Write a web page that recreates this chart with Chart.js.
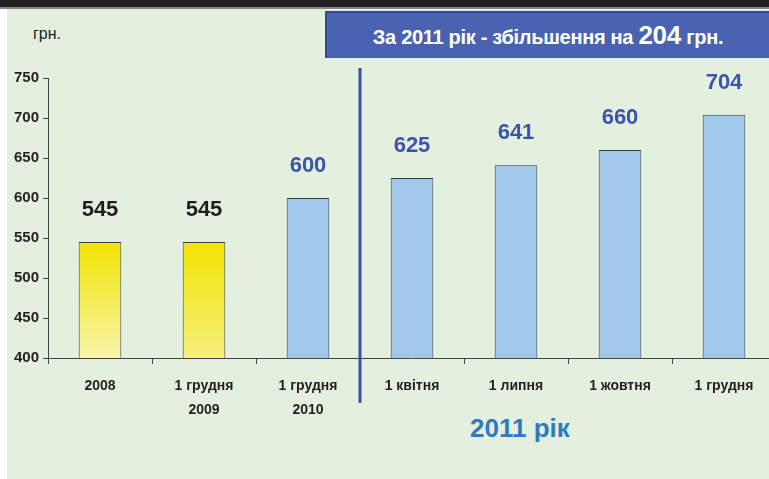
<!DOCTYPE html>
<html>
<head>
<meta charset="utf-8">
<script src="https://cdn.jsdelivr.net/npm/chart.js@4"></script>
<style>
  html, body { margin: 0; padding: 0; background: #fff; overflow: hidden; }
  body { width: 769px; height: 479px; position: relative; font-family: "Liberation Sans", Arial, sans-serif; }
  #bg { position: absolute; left: 7px; top: 0; right: 0; bottom: 0; background: #e4f0df; }
  #topbar { position: absolute; left: 0; top: 0; width: 769px; height: 7px; background: #231f20; border-bottom: 2px solid #8a8a8a; }
  #title { position: absolute; left: 325px; top: 11px; width: 444px; height: 47px; background: #4a63b0;
           border-top: 2px solid #34489a; border-left: 2px solid #34489a; box-sizing: border-box;
           color: #fff; font-weight: bold; font-size: 20px; line-height: 45px; text-align: center; letter-spacing: -0.3px; }
  #title b { font-size: 26px; }
  #unit { position: absolute; left: 33px; top: 25px; font-size: 16px; color: #222; }
  #year { position: absolute; left: 470px; top: 413px; font-size: 26px; font-weight: bold; color: #2f7ac0; }
  canvas { position: absolute; left: 0; top: 0; }
</style>
</head>
<body>
<div id="bg"></div>
<div id="topbar"></div>
<div id="title">За 2011 рік - збільшення на <b>204</b> грн.</div>
<div id="unit">грн.</div>
<div id="year">2011 рік</div>
<canvas id="myChart" width="776" height="479" style="width:776px;height:479px"></canvas>
<script>
const categories = ['2008', ['1 грудня', '2009'], ['1 грудня', '2010'], '1 квітня', '1 липня', '1 жовтня', '1 грудня'];
const values = [545, 545, 600, 625, 641, 660, 704];
const yTicks = [400, 450, 500, 550, 600, 650, 700, 750];

const ctx = document.getElementById('myChart');

function barFill(context) {
    const i = context.dataIndex;
    if (i > 1) return '#9fc8ea';
    const chart = context.chart;
    if (!chart.chartArea) return '#f2e600';
    const y = chart.scales.y;
    const g = chart.ctx.createLinearGradient(0, y.getPixelForValue(values[i]), 0, y.getPixelForValue(400));
    if (i === 0) {
        g.addColorStop(0, '#f1e400');
        g.addColorStop(1, '#f8f4ac');
    } else {
        g.addColorStop(0, '#f2e400');
        g.addColorStop(1, '#f5ef7e');
    }
    return g;
}

const extras = {
    id: 'extras',
    afterDatasetsDraw(chart) {
        const c = chart.ctx;
        const meta = chart.getDatasetMeta(0);
        c.save();
        c.font = 'bold 22px "Liberation Sans", Arial, sans-serif';
        c.textAlign = 'center';
        c.textBaseline = 'middle';
        meta.data.forEach((bar, i) => {
            c.fillStyle = i < 2 ? '#231f20' : '#3a56a8';
            c.fillText(String(values[i]), bar.x, bar.y - 32);
        });
        // separator between 2010 and 2011
        const x = (chart.scales.x.getPixelForValue(2) + chart.scales.x.getPixelForValue(3)) / 2;
        c.strokeStyle = '#3a50a8';
        c.lineWidth = 3;
        c.beginPath();
        c.moveTo(x, 68);
        c.lineTo(x, 403);
        c.stroke();
        c.restore();
    }
};

new Chart(ctx, {
    type: 'bar',
    data: {
        labels: categories,
        datasets: [{
            data: values,
            backgroundColor: barFill,
            borderColor: '#3c3c3c',
            borderWidth: 1,
            barPercentage: 0.41,
            categoryPercentage: 1
        }]
    },
    options: {
        responsive: false,
        animation: false,
        layout: { padding: { top: 78, right: 0, bottom: 0, left: 0 } },
        plugins: { legend: { display: false }, tooltip: { enabled: false } },
        scales: {
            x: {
                afterFit(scale) { scale.height = 121; },
                grid: { drawOnChartArea: false, tickLength: 6, color: '#444' },
                border: { color: '#444', width: 1 },
                ticks: {
                    color: '#231f20',
                    padding: 10,
                    font: { family: '"Liberation Sans", Arial, sans-serif', size: 14, weight: 'bold', lineHeight: 1.7 },
                    maxRotation: 0,
                    autoSkip: false
                }
            },
            y: {
                min: 400,
                max: 750,
                afterFit(scale) { scale.width = 48; },
                afterBuildTicks(scale) { scale.ticks = yTicks.map(v => ({ value: v })); },
                grid: { drawOnChartArea: false, tickLength: 5, color: '#444' },
                border: { color: '#444', width: 1 },
                ticks: {
                    color: '#231f20',
                    padding: 4,
                    font: { family: '"Liberation Sans", Arial, sans-serif', size: 15, weight: 'bold' }
                }
            }
        }
    },
    plugins: [extras]
});
</script>
</body>
</html>
